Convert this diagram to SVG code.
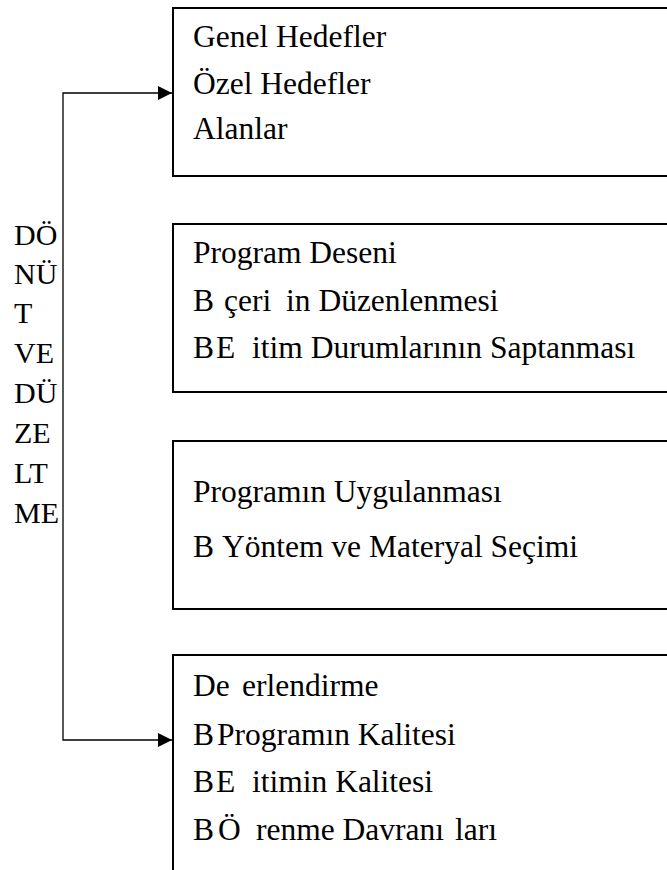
<svg xmlns="http://www.w3.org/2000/svg" width="667" height="870" viewBox="0 0 667 870" font-family="Liberation Serif, Times New Roman, serif">
  <style>
    .box { fill: #ffffff; stroke: #000000; stroke-width: 2; }
    .wire { fill: none; stroke: #000000; stroke-width: 1.3; }
  </style>
  <defs>
    <marker id="arrow" viewBox="0 0 14 14" refX="14" refY="7" markerWidth="14" markerHeight="14" markerUnits="userSpaceOnUse" orient="auto">
      <path d="M0,0 L14,7 L0,14 Z" fill="#000000"/>
    </marker>
  </defs>
  <rect width="667" height="870" fill="#ffffff"/>

  <!-- feedback loop: one spine, two arrowed branches -->
  <g id="connectors">
    <path class="wire" d="M63,416 V93 H172" marker-end="url(#arrow)"/>
    <path class="wire" d="M63,416 V740 H172" marker-end="url(#arrow)"/>
  </g>

  <!-- vertical label along the loop -->
  <g id="feedback-label" font-family="Liberation Serif, serif" font-size="30" fill="#000000">
    <text x="14" y="245">DÖ</text>
    <text x="14" y="284">NÜ</text>
    <text x="14" y="323">T</text>
    <text x="14" y="363">VE</text>
    <text x="14" y="403">DÜ</text>
    <text x="14" y="443">ZE</text>
    <text x="14" y="483">LT</text>
    <text x="14" y="523">ME</text>
  </g>

  <g id="goals" font-family="Liberation Serif, serif" font-size="31.5" fill="#000000">
    <rect class="box" x="173" y="8" width="520" height="168"/>
    <text x="193" y="47">Genel Hedefler</text>
    <text x="193" y="94">Özel Hedefler</text>
    <text x="193" y="139">Alanlar</text>
  </g>

  <g id="design" font-family="Liberation Serif, serif" font-size="31.5" fill="#000000">
    <rect class="box" x="173" y="224" width="520" height="168"/>
    <text x="193" y="263">Program Deseni</text>
    <text y="311"><tspan x="193">B</tspan><tspan x="224">çeri</tspan><tspan x="286">in Düzenlenmesi</tspan></text>
    <text y="358"><tspan x="193">B</tspan><tspan x="216">E</tspan><tspan x="252">itim Durumlarının Saptanması</tspan></text>
  </g>

  <g id="implementation" font-family="Liberation Serif, serif" font-size="31.5" fill="#000000">
    <rect class="box" x="173" y="441" width="520" height="168"/>
    <text x="193" y="502">Programın Uygulanması</text>
    <text y="557"><tspan x="193">B</tspan><tspan x="222">Yöntem ve Materyal Seçimi</tspan></text>
  </g>

  <g id="evaluation" font-family="Liberation Serif, serif" font-size="31.5" fill="#000000">
    <rect class="box" x="173" y="655" width="520" height="240"/>
    <text y="696"><tspan x="193">De</tspan><tspan x="242">erlendirme</tspan></text>
    <text y="745"><tspan x="193">B</tspan><tspan x="217">Programın Kalitesi</tspan></text>
    <text y="792"><tspan x="193">B</tspan><tspan x="216">E</tspan><tspan x="252">itimin Kalitesi</tspan></text>
    <text y="840"><tspan x="193">B</tspan><tspan x="218">Ö</tspan><tspan x="256">renme Davranı</tspan><tspan dx="11">ları</tspan></text>
  </g>
</svg>
